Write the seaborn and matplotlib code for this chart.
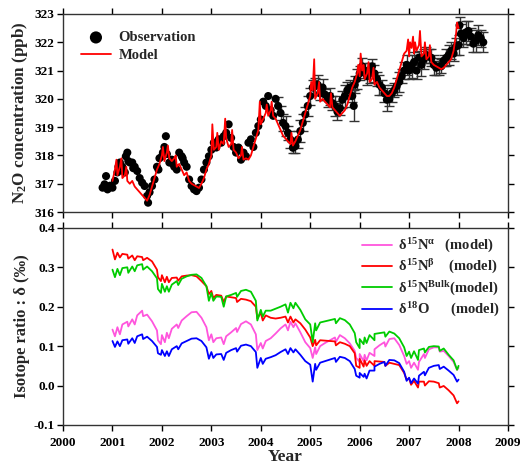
import numpy as np
import pandas as pd
import seaborn as sns
import matplotlib
matplotlib.use("Agg")
import matplotlib.pyplot as plt

# ---- N2O model (ppb) ----
model_year = [2001.00, 2001.05, 2001.10, 2001.15, 2001.20, 2001.25, 2001.30, 2001.35, 2001.40, 2001.45,
              2001.50, 2001.55, 2001.60, 2001.65, 2001.70, 2001.75, 2001.80, 2001.85, 2001.90, 2001.95,
              2002.00, 2002.05, 2002.10, 2002.15, 2002.20, 2002.25, 2002.30, 2002.35, 2002.40, 2002.45,
              2002.50, 2002.55, 2002.60, 2002.65, 2002.70, 2002.75, 2002.80, 2002.85, 2002.90, 2002.95,
              2003.00, 2003.05, 2003.10, 2003.15, 2003.20, 2003.25, 2003.30, 2003.35, 2003.40, 2003.45,
              2003.50, 2003.55, 2003.60, 2003.65, 2003.70, 2003.75, 2003.80, 2003.85, 2003.90, 2003.95,
              2004.00, 2004.05, 2004.10, 2004.15, 2004.20, 2004.25, 2004.30, 2004.35, 2004.40, 2004.45,
              2004.50, 2004.55, 2004.60, 2004.65, 2004.70, 2004.75, 2004.80, 2004.85, 2004.90, 2004.95,
              2005.00, 2005.05, 2005.10, 2005.15, 2005.20, 2005.25, 2005.30, 2005.35, 2005.40, 2005.45,
              2005.50, 2005.55, 2005.60, 2005.65, 2005.70, 2005.75, 2005.80, 2005.85, 2005.90, 2005.95,
              2006.00, 2006.05, 2006.10, 2006.15, 2006.20, 2006.25, 2006.30, 2006.35, 2006.40, 2006.45,
              2006.50, 2006.55, 2006.60, 2006.65, 2006.70, 2006.75, 2006.80, 2006.85, 2006.90, 2006.95,
              2007.00, 2007.05, 2007.10, 2007.15, 2007.20, 2007.25, 2007.30, 2007.35, 2007.40, 2007.45,
              2007.50, 2007.55, 2007.60, 2007.65, 2007.70, 2007.75, 2007.80, 2007.85, 2007.90, 2007.95,
              2008.00]
model_n2o = [317.1, 317.5, 317.3, 317.6, 317.2, 317.3, 317.1, 317.0, 317.1, 316.9,
             316.8, 316.7, 316.6, 316.5, 316.4, 316.6, 316.9, 317.2, 317.5, 317.7,
             318.0, 317.8, 318.1, 317.9, 317.8, 317.9, 317.6, 317.7, 317.5, 317.3,
             317.4, 317.1, 317.0, 316.95, 316.9, 316.85, 317.0, 317.2, 317.5, 317.7,
             318.0, 318.2, 318.3, 318.2, 318.5, 318.4, 318.6, 318.3, 318.4, 318.2,
             318.1, 317.9, 318.0, 317.85, 317.9, 317.85, 318.0, 318.3, 318.6, 318.9,
             319.1, 319.3, 319.5, 319.4, 319.6, 319.4, 319.3, 319.1, 318.9, 318.7,
             318.6, 318.5, 318.4, 318.35, 318.5, 318.7, 318.9, 319.2, 319.5, 319.8,
             320.1, 320.3, 320.0, 320.2, 319.9, 320.0, 319.9, 319.8, 319.7, 319.7,
             319.6, 319.5, 319.4, 319.5, 319.6, 319.8, 320.1, 320.4, 320.6, 320.9,
             320.8, 321.0, 320.7, 320.9, 320.6, 320.7, 320.5, 320.6, 320.4, 320.3,
             320.2, 320.1, 320.1, 320.2, 320.4, 320.7, 321.0, 321.3, 321.6, 321.7,
             321.5, 321.8, 321.6, 321.7, 321.9, 321.5, 321.6, 321.4, 321.5, 321.3,
             321.2, 321.15, 321.1, 321.05, 321.1, 321.2, 321.3, 321.4, 321.7, 322.3,
             322.5]
# short-lived peaks in the model run
spike_year = [2001.08, 2001.18, 2001.28, 2002.02, 2002.12, 2002.28, 2003.02, 2003.12, 2003.28,
              2003.42, 2003.62, 2003.98, 2004.12, 2004.22, 2004.62, 2005.02, 2005.08, 2005.18,
              2005.42, 2005.97, 2006.02, 2006.08, 2006.18, 2006.28, 2006.98, 2007.02, 2007.08,
              2007.12, 2007.22, 2007.32, 2007.42, 2007.97]
spike_n2o = [317.85, 317.9, 317.6, 318.3, 318.35, 318.0, 319.1, 318.8, 319.3,
             318.9, 318.3, 319.9, 319.8, 319.9, 318.8, 320.6, 321.4, 320.6,
             320.2, 321.2, 321.6, 321.2, 321.3, 321.1, 322.1, 322.0, 322.2,
             322.0, 322.4, 322.0, 321.9, 322.7]

# ---- N2O observations ----
obs_year = [2000.80, 2000.84, 2000.87, 2000.90, 2000.95, 2001.00, 2001.05, 2001.10, 2001.12, 2001.15,
            2001.20, 2001.25, 2001.27, 2001.30, 2001.32, 2001.35, 2001.40, 2001.42, 2001.45, 2001.50,
            2001.55, 2001.60, 2001.65, 2001.70, 2001.72, 2001.75, 2001.80, 2001.85, 2001.90, 2001.93,
            2001.95, 2002.00, 2002.02, 2002.05, 2002.08, 2002.10, 2002.15, 2002.20, 2002.22, 2002.25,
            2002.30, 2002.35, 2002.40, 2002.42, 2002.45, 2002.50, 2002.55, 2002.60, 2002.65, 2002.70,
            2002.75, 2002.80, 2002.85, 2002.90, 2002.95, 2003.00, 2003.05, 2003.10, 2003.15, 2003.20,
            2003.25, 2003.30, 2003.35, 2003.40, 2003.45, 2003.50, 2003.55, 2003.60, 2003.65, 2003.70,
            2003.75, 2003.80, 2003.85, 2003.90, 2003.95, 2004.00, 2004.05, 2004.10, 2004.15, 2004.20,
            2004.25, 2004.30]
obs_n2o = [316.86, 316.98, 317.27, 316.80, 316.93, 316.86, 317.10, 317.40, 317.60, 317.75,
           317.60, 317.40, 317.97, 318.10, 317.80, 317.75, 317.75, 317.55, 317.60, 317.45,
           317.20, 317.04, 316.92, 316.57, 316.33, 316.70, 316.92, 317.15, 317.60, 317.50,
           317.90, 317.97, 318.10, 318.30, 318.68, 318.05, 317.75, 317.85, 317.70, 317.60,
           317.50, 318.10, 317.97, 317.90, 317.75, 317.60, 317.15, 316.92, 316.80, 316.74,
           316.86, 317.15, 317.50, 317.75, 317.97, 318.20, 318.45, 318.28, 318.57, 318.45,
           318.68, 318.80, 319.10, 318.62, 318.30, 318.10, 318.28, 317.85, 318.10, 317.97,
           318.45, 318.57, 318.30, 318.80, 319.04, 319.27, 319.90, 319.75, 320.10, 319.60,
           319.40, 320.00]
# later observations carry error bars
obs_err_year = [2004.35, 2004.40, 2004.45, 2004.50, 2004.55, 2004.60, 2004.65, 2004.70, 2004.75, 2004.80,
                2004.85, 2004.90, 2004.95, 2005.00, 2005.05, 2005.10, 2005.15, 2005.20, 2005.25, 2005.30,
                2005.35, 2005.40, 2005.45, 2005.50, 2005.55, 2005.60, 2005.65, 2005.70, 2005.75, 2005.80,
                2005.85, 2005.88, 2005.90, 2005.95, 2006.00, 2006.05, 2006.10, 2006.15, 2006.20, 2006.25,
                2006.30, 2006.35, 2006.40, 2006.45, 2006.50, 2006.55, 2006.60, 2006.65, 2006.70, 2006.75,
                2006.80, 2006.85, 2006.90, 2006.95, 2007.00, 2007.05, 2007.10, 2007.15, 2007.20, 2007.25,
                2007.30, 2007.35, 2007.40, 2007.45, 2007.50, 2007.55, 2007.60, 2007.65, 2007.70, 2007.75,
                2007.80, 2007.85, 2007.90, 2007.95, 2008.00, 2008.02, 2008.05, 2008.10, 2008.15, 2008.20,
                2008.25, 2008.30, 2008.35, 2008.40, 2008.45, 2008.50]
obs_err_n2o = [319.75, 319.50, 319.15, 319.04, 318.80, 318.56, 318.27, 318.33, 318.56, 318.86,
               319.15, 319.45, 319.75, 320.10, 320.40, 320.45, 320.50, 320.20, 320.40, 320.15,
               319.97, 320.10, 319.85, 319.75, 319.55, 319.67, 319.97, 320.10, 320.30, 320.40,
               320.10, 319.75, 320.50, 320.70, 320.90, 321.15, 321.00, 320.80, 320.90, 321.15,
               320.90, 320.70, 320.50, 320.40, 320.20, 319.97, 320.00, 320.20, 320.30, 320.45,
               320.60, 320.80, 321.00, 321.20, 321.00, 321.15, 321.30, 321.00, 321.45, 321.20,
               321.40, 321.55, 321.50, 321.45, 321.20, 321.10, 321.15, 321.15, 321.35, 321.45,
               321.55, 321.70, 321.60, 321.85, 321.90, 322.60, 322.30, 322.15, 322.35, 322.40,
               322.20, 321.95, 322.05, 322.25, 322.15, 322.00]
obs_err = [0.30, 0.25, 0.30, 0.35, 0.25, 0.30, 0.20, 0.25, 0.30, 0.40,
           0.30, 0.25, 0.35, 0.30, 0.25, 0.30, 0.35, 0.25, 0.30, 0.20,
           0.25, 0.30, 0.25, 0.35, 0.30, 0.25, 0.30, 0.40, 0.30, 0.25,
           0.20, 0.55, 0.30, 0.35, 0.25, 0.30, 0.25, 0.30, 0.35, 0.25,
           0.30, 0.25, 0.35, 0.25, 0.30, 0.40, 0.25, 0.30, 0.25, 0.30,
           0.35, 0.25, 0.30, 0.35, 0.30, 0.40, 0.35, 0.30, 0.25, 0.40,
           0.35, 0.30, 0.25, 0.30, 0.35, 0.25, 0.30, 0.25, 0.20, 0.30,
           0.35, 0.30, 0.25, 0.30, 0.35, 0.30, 0.35, 0.30, 0.40, 0.35,
           0.30, 0.30, 0.40, 0.35, 0.30, 0.35]

# ---- isotope ratios (permil), model, every 0.1 yr from 2001 to 2008 ----
iso_year = [round(2001.0 + 0.1 * i, 1) for i in range(71)]
d15n_beta = [0.345, 0.337, 0.334, 0.332, 0.330, 0.328, 0.326, 0.324, 0.315, 0.294,
             0.280, 0.276, 0.273, 0.274, 0.277, 0.279, 0.280, 0.277, 0.265, 0.252,
             0.240, 0.230, 0.228, 0.226, 0.224, 0.222, 0.220, 0.218, 0.214, 0.200,
             0.185, 0.178, 0.172, 0.170, 0.172, 0.175, 0.175, 0.168, 0.158, 0.142,
             0.122, 0.116, 0.115, 0.114, 0.113, 0.112, 0.110, 0.106, 0.100, 0.082,
             0.068, 0.064, 0.062, 0.062, 0.061, 0.060, 0.058, 0.055, 0.052, 0.032,
             0.018, 0.012, 0.010, 0.010, 0.011, 0.010, 0.006, -0.001, -0.012, -0.025,
             -0.040]
d15n_bulk = [0.294, 0.296, 0.298, 0.300, 0.302, 0.305, 0.308, 0.302, 0.290, 0.272,
             0.258, 0.252, 0.256, 0.265, 0.271, 0.277, 0.281, 0.282, 0.273, 0.252,
             0.235, 0.226, 0.225, 0.226, 0.230, 0.235, 0.240, 0.243, 0.238, 0.215,
             0.192, 0.190, 0.190, 0.195, 0.200, 0.206, 0.210, 0.210, 0.192, 0.168,
             0.155, 0.158, 0.160, 0.163, 0.166, 0.169, 0.171, 0.166, 0.155, 0.133,
             0.118, 0.122, 0.128, 0.131, 0.133, 0.135, 0.137, 0.132, 0.120, 0.097,
             0.086, 0.087, 0.090, 0.094, 0.098, 0.100, 0.099, 0.094, 0.078, 0.064,
             0.050]
d15n_alpha = [0.142, 0.148, 0.155, 0.162, 0.168, 0.178, 0.190, 0.180, 0.163, 0.140,
              0.128, 0.134, 0.144, 0.155, 0.165, 0.176, 0.186, 0.187, 0.172, 0.148,
              0.130, 0.120, 0.122, 0.125, 0.135, 0.146, 0.156, 0.163, 0.155, 0.130,
              0.108, 0.113, 0.120, 0.132, 0.145, 0.155, 0.162, 0.158, 0.135, 0.110,
              0.095, 0.097, 0.100, 0.108, 0.115, 0.122, 0.128, 0.120, 0.107, 0.088,
              0.080, 0.078, 0.083, 0.092, 0.102, 0.110, 0.118, 0.120, 0.103, 0.075,
              0.062, 0.058, 0.060, 0.080, 0.092, 0.097, 0.097, 0.088, 0.075, 0.060,
              0.045]
d18o = [0.113, 0.112, 0.115, 0.117, 0.120, 0.125, 0.130, 0.124, 0.113, 0.098,
        0.090, 0.087, 0.092, 0.100, 0.107, 0.113, 0.119, 0.120, 0.113, 0.097,
        0.085, 0.079, 0.080, 0.083, 0.090, 0.095, 0.101, 0.104, 0.100, 0.085,
        0.070, 0.068, 0.072, 0.077, 0.085, 0.092, 0.095, 0.092, 0.078, 0.062,
        0.053, 0.055, 0.058, 0.062, 0.066, 0.070, 0.073, 0.070, 0.062, 0.042,
        0.032, 0.030, 0.038, 0.048, 0.055, 0.060, 0.065, 0.064, 0.057, 0.035,
        0.020, 0.018, 0.025, 0.035, 0.045, 0.050, 0.052, 0.048, 0.038, 0.027,
        0.015]
# downward excursions seen in all four isotope runs
dip_year = [2001.05, 2001.15, 2001.32, 2001.45, 2001.62, 2001.92, 2001.98, 2002.06, 2002.14,
            2002.33, 2002.95, 2003.04, 2003.25, 2003.52, 2003.93, 2004.04, 2004.55, 2004.66,
            2005.05, 2005.12, 2005.52, 2005.93, 2006.00, 2006.08, 2006.14, 2006.30, 2006.52,
            2006.95, 2007.04, 2007.18, 2007.32, 2007.62, 2007.97]
dip_beta = [0.320, 0.325, 0.322, 0.318, 0.318, 0.275, 0.265, 0.262, 0.262,
            0.266, 0.232, 0.222, 0.212, 0.212, 0.170, 0.165, 0.160, 0.160,
            0.100, 0.102, 0.102, 0.050, 0.045, 0.048, 0.050, 0.050, 0.050,
            0.015, 0.002, -0.005, 0.000, -0.005, -0.045]
dip_bulk = [0.275, 0.280, 0.286, 0.290, 0.294, 0.245, 0.235, 0.238, 0.238,
            0.255, 0.215, 0.215, 0.200, 0.225, 0.165, 0.175, 0.185, 0.196,
            0.110, 0.140, 0.158, 0.110, 0.095, 0.105, 0.108, 0.115, 0.124,
            0.075, 0.070, 0.065, 0.084, 0.088, 0.040]
dip_alpha = [0.125, 0.130, 0.150, 0.155, 0.176, 0.115, 0.105, 0.110, 0.120,
             0.146, 0.115, 0.110, 0.105, 0.136, 0.090, 0.094, 0.140, 0.148,
             0.070, 0.080, 0.111, 0.070, 0.060, 0.062, 0.064, 0.075, 0.099,
             0.055, 0.045, 0.040, 0.070, 0.086, 0.040]
dip_18o = [0.098, 0.100, 0.106, 0.108, 0.118, 0.082, 0.078, 0.075, 0.075,
           0.092, 0.068, 0.070, 0.065, 0.086, 0.045, 0.055, 0.080, 0.084,
           0.010, 0.040, 0.060, 0.025, 0.020, 0.022, 0.018, 0.038, 0.050,
           0.012, 0.006, 0.005, 0.026, 0.042, 0.010]

year_ticks = list(range(2000, 2010))

# ---- style ----
sns.set_style("ticks")
plt.rcParams["font.family"] = ["Liberation Serif", "DejaVu Serif"]
plt.rcParams["font.weight"] = "bold"
plt.rcParams["axes.labelweight"] = "bold"
plt.rcParams["mathtext.fontset"] = "custom"
plt.rcParams["mathtext.rm"] = "Liberation Serif:bold"
plt.rcParams["mathtext.it"] = "Liberation Serif:bold"
plt.rcParams["mathtext.bf"] = "Liberation Serif:bold"

fig = plt.figure(figsize=(5.21, 4.66), dpi=100)
ax1 = fig.add_axes([0.121, 0.545, 0.854, 0.425])
ax2 = fig.add_axes([0.121, 0.088, 0.854, 0.423])

# top panel
model_df = pd.DataFrame({"year": model_year + spike_year,
                         "n2o": model_n2o + spike_n2o}).sort_values("year")
ax1.errorbar(obs_err_year, obs_err_n2o, yerr=obs_err, fmt="none",
             ecolor="#333333", elinewidth=1.0, capsize=3.5, capthick=1.0, zorder=2)
sns.scatterplot(x=obs_year + obs_err_year, y=obs_n2o + obs_err_n2o, ax=ax1,
                color="black", s=34, edgecolor="none", label="Observation", zorder=3)
sns.lineplot(data=model_df, x="year", y="n2o", ax=ax1, color="red",
             linewidth=1.3, estimator=None, sort=True, label="Model", zorder=4)
ax1.set_ylim(316, 323)
ax1.set_xlim(2000, 2009)
ax1.set_xticks(year_ticks)
ax1.set_xticklabels([])
ax1.set_xlabel("")
ax1.set_ylabel(r"N$_2$O concentration (ppb)", fontsize=12.3)
ax1.legend(loc="upper left", bbox_to_anchor=(0.01, 0.98), frameon=False,
           fontsize=10.5, handlelength=2.1, markerscale=1.5,
           labelspacing=0.3, handletextpad=0.5)

# bottom panel
iso_series = [
    (r"$\delta^{15}$N$^{\alpha}$   (model)", d15n_alpha, dip_alpha, "#ff55dd"),
    (r"$\delta^{15}$N$^{\beta}$    (model)", d15n_beta, dip_beta, "#ff0000"),
    (r"$\delta^{15}$N$^{Bulk}$(model)", d15n_bulk, dip_bulk, "#00cc00"),
    (r"$\delta^{18}$O      (model)", d18o, dip_18o, "#0000ff"),
]
for label, vals, dips, col in iso_series:
    df = pd.DataFrame({"year": iso_year + dip_year, "delta": vals + dips}).sort_values("year")
    sns.lineplot(data=df, x="year", y="delta", ax=ax2, color=col, linewidth=1.3,
                 estimator=None, sort=True, label=label)
ax2.set_ylim(-0.1, 0.4)
ax2.set_xlim(2000, 2009)
ax2.set_xticks(year_ticks)
ax2.set_yticks([-0.1, 0.0, 0.1, 0.2, 0.3, 0.4])
ax2.set_yticklabels(["-0.1", "0.0", "0.1", "0.2", "0.3", "0.4"])
ax2.set_xlabel("Year", fontsize=12.5, labelpad=0)
ax2.set_ylabel("Isotope ratio : δ (‰)", fontsize=12)
ax2.legend(loc="upper right", bbox_to_anchor=(1.01, 1.02), frameon=False,
           fontsize=10.5, handlelength=2.05, labelspacing=0.2, handletextpad=0.4)

for ax in (ax1, ax2):
    ax.tick_params(direction="out", top=True, right=True, length=4, width=1,
                   labelsize=9.5, colors="black")
    ax.tick_params(axis="x", pad=5)
    ax.tick_params(axis="y", pad=2)
    for sp in ax.spines.values():
        sp.set_visible(True)
        sp.set_linewidth(1.0)
        sp.set_color("#333333")
    ax.yaxis.set_label_coords(-0.075, 0.5)

fig.savefig("out.png", dpi=100)
